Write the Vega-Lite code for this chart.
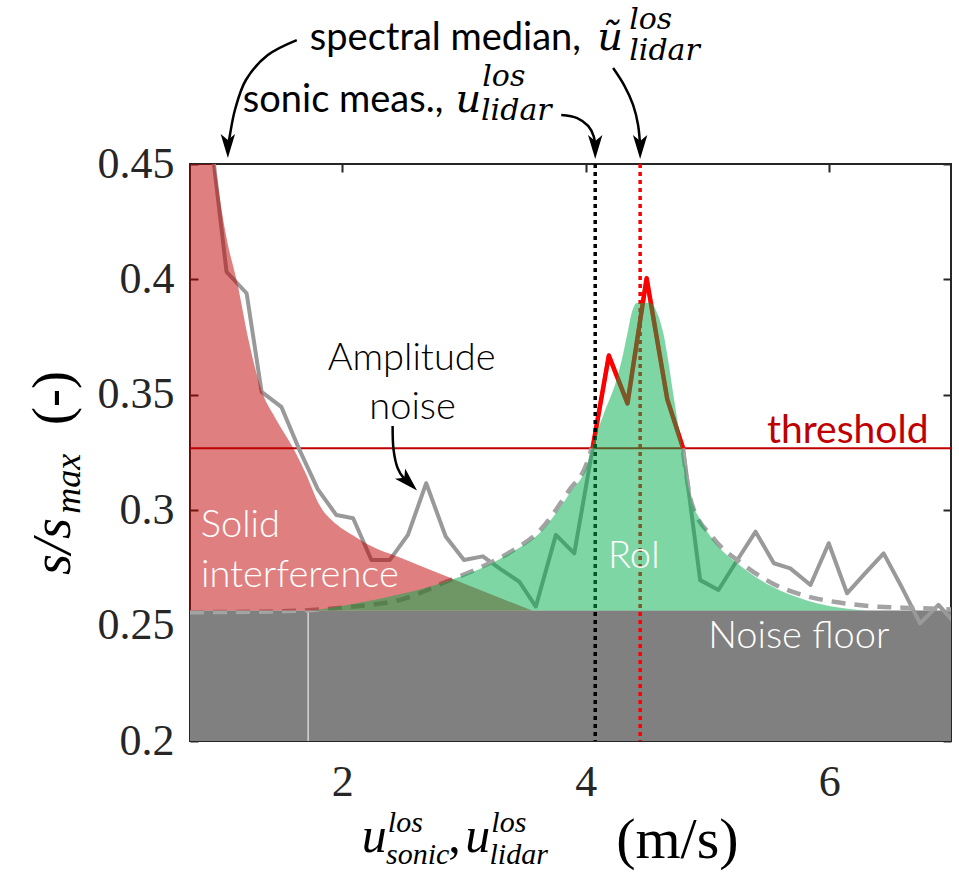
{
  "$schema": "https://vega.github.io/schema/vega-lite/v6.json",
  "width": 761,
  "height": 577,
  "autosize": {"type": "none"},
  "padding": {"left": 190, "top": 164, "right": 8, "bottom": 134},
  "background": "white",
  "config": {
    "view": {"stroke": "#262626", "strokeWidth": 2},
    "axis": {"grid": false, "domain": false, "title": null, "tickColor": "#262626", "tickWidth": 2, "tickSize": -8, "labelFlush": false, "labelOverlap": false, "labelBound": false}
  },
  "resolve": {"axis": {"x": "independent", "y": "independent"}},
  "datasets": {
    "floor": [{"x": 0.75, "x2": 7, "y": 0.2, "y2": 0.2565}],
    "whiteline": [{"x": 1.72, "y": 0.2, "y2": 0.2565}],
    "threshold": [{"y": 0.3268}],
    "spectrum": [
      {"x": 0.9, "y": 0.471}, {"x": 1.05, "y": 0.4033}, {"x": 1.215, "y": 0.394}, {"x": 1.338, "y": 0.3513},
      {"x": 1.5, "y": 0.3448}, {"x": 1.65, "y": 0.326}, {"x": 1.8, "y": 0.309}, {"x": 1.952, "y": 0.2979},
      {"x": 2.09, "y": 0.2965}, {"x": 2.24, "y": 0.2784}, {"x": 2.39, "y": 0.2784}, {"x": 2.54, "y": 0.2893},
      {"x": 2.69, "y": 0.3117}, {"x": 2.85, "y": 0.2886}, {"x": 3.0, "y": 0.2784}, {"x": 3.155, "y": 0.28},
      {"x": 3.3, "y": 0.2745}, {"x": 3.455, "y": 0.269}, {"x": 3.59, "y": 0.2582}, {"x": 3.755, "y": 0.2893},
      {"x": 3.906, "y": 0.2813}, {"x": 4.19, "y": 0.367}, {"x": 4.343, "y": 0.3463}, {"x": 4.5, "y": 0.4005},
      {"x": 4.67, "y": 0.348}, {"x": 4.8, "y": 0.3268}, {"x": 4.94, "y": 0.2697}, {"x": 5.09, "y": 0.2654},
      {"x": 5.24, "y": 0.278}, {"x": 5.395, "y": 0.2907}, {"x": 5.545, "y": 0.277}, {"x": 5.68, "y": 0.2748},
      {"x": 5.846, "y": 0.2676}, {"x": 5.996, "y": 0.2857}, {"x": 6.146, "y": 0.264}, {"x": 6.296, "y": 0.2727},
      {"x": 6.447, "y": 0.2813}, {"x": 6.597, "y": 0.2665}, {"x": 6.746, "y": 0.251}, {"x": 6.897, "y": 0.259},
      {"x": 7.05, "y": 0.25}
    ],
    "spectrumAbove": [
      {"x": 4.056, "y": 0.3268}, {"x": 4.19, "y": 0.367}, {"x": 4.343, "y": 0.3463}, {"x": 4.5, "y": 0.4005},
      {"x": 4.67, "y": 0.348}, {"x": 4.8, "y": 0.3268}
    ],
    "fit": [
      {"s": "a", "x": 0.75, "y": 0.2558}, {"s": "a", "x": 1.5, "y": 0.2562}, {"s": "a", "x": 2.0, "y": 0.2578},
      {"s": "a", "x": 2.5, "y": 0.2615}, {"s": "a", "x": 2.854, "y": 0.269}, {"s": "a", "x": 3.127, "y": 0.275},
      {"s": "a", "x": 3.4, "y": 0.2825}, {"s": "a", "x": 3.62, "y": 0.291}, {"s": "a", "x": 3.865, "y": 0.3087},
      {"s": "a", "x": 4.01, "y": 0.3204}, {"s": "a", "x": 4.05, "y": 0.327},
      {"s": "b", "x": 4.8, "y": 0.325}, {"s": "b", "x": 4.87, "y": 0.303}, {"s": "b", "x": 5.04, "y": 0.2884},
      {"s": "b", "x": 5.28, "y": 0.277}, {"s": "b", "x": 5.53, "y": 0.2684}, {"s": "b", "x": 5.81, "y": 0.2628},
      {"s": "b", "x": 6.08, "y": 0.26}, {"s": "b", "x": 6.4, "y": 0.2582}, {"s": "b", "x": 6.73, "y": 0.2576},
      {"s": "b", "x": 7.0, "y": 0.257}
    ],
    "verticals": [{"x": 4.078, "k": "sonic"}, {"x": 4.447, "k": "median"}],
    "solid": [
      {"x": 0.75, "y": 0.56}, {"x": 0.85, "y": 0.5}, {"x": 0.955, "y": 0.45}, {"x": 1.05, "y": 0.418},
      {"x": 1.14, "y": 0.398}, {"x": 1.23, "y": 0.374}, {"x": 1.337, "y": 0.352}, {"x": 1.45, "y": 0.34},
      {"x": 1.597, "y": 0.327}, {"x": 1.7, "y": 0.316}, {"x": 1.816, "y": 0.302}, {"x": 1.95, "y": 0.294},
      {"x": 2.09, "y": 0.289}, {"x": 2.2, "y": 0.2855}, {"x": 2.5, "y": 0.279}, {"x": 2.85, "y": 0.2715},
      {"x": 3.2, "y": 0.264}, {"x": 3.56, "y": 0.2565}
    ],
    "roi": [
      {"x": 1.76, "y": 0.2565}, {"x": 2.3, "y": 0.2615}, {"x": 2.85, "y": 0.269}, {"x": 3.13, "y": 0.2745},
      {"x": 3.4, "y": 0.282}, {"x": 3.62, "y": 0.29}, {"x": 3.87, "y": 0.3075}, {"x": 4.01, "y": 0.3195},
      {"x": 4.05, "y": 0.327}, {"x": 4.15, "y": 0.342}, {"x": 4.25, "y": 0.356}, {"x": 4.3, "y": 0.366},
      {"x": 4.34, "y": 0.376}, {"x": 4.38, "y": 0.386}, {"x": 4.42, "y": 0.3898}, {"x": 4.53, "y": 0.3898},
      {"x": 4.59, "y": 0.385}, {"x": 4.64, "y": 0.376}, {"x": 4.68, "y": 0.364}, {"x": 4.72, "y": 0.35},
      {"x": 4.79, "y": 0.327}, {"x": 4.86, "y": 0.306}, {"x": 4.95, "y": 0.295}, {"x": 5.04, "y": 0.2875},
      {"x": 5.28, "y": 0.2755}, {"x": 5.53, "y": 0.2669}, {"x": 5.81, "y": 0.261}, {"x": 6.0, "y": 0.2585},
      {"x": 6.3, "y": 0.2565}
    ],
    "whiteLabels": [
      {"x": 1.164, "y": 0.2884, "t": "Solid"}, {"x": 1.652, "y": 0.2667, "t": "interference"},
      {"x": 4.398, "y": 0.275, "t": "RoI"}, {"x": 5.75, "y": 0.2403, "t": "Noise floor"}
    ],
    "blackLabels": [
      {"x": 2.57, "y": 0.3607, "t": "Amplitude"}, {"x": 2.578, "y": 0.3395, "t": "noise"}
    ],
    "thresholdLabel": [{"x": 6.815, "y": 0.3268, "t": "threshold"}],
    "topText": [
      {"x": 1.734, "y": 0.4994, "t": "spectral median,"}, {"x": 1.184, "y": 0.4725, "t": "sonic meas.,"}
    ],
    "topMathBig": [
      {"x": 4.094, "y": 0.4994, "t": "ũ"}, {"x": 2.93, "y": 0.4725, "t": "u"}
    ],
    "topMathSmall": [
      {"x": 4.357, "y": 0.5085, "t": "los"}, {"x": 4.357, "y": 0.4952, "t": "lidar"},
      {"x": 3.15, "y": 0.484, "t": "los"}, {"x": 3.14, "y": 0.4689, "t": "lidar"}
    ],
    "xTitleBig": [
      {"x": 2.16, "y": 0.1519, "t": "u"}, {"x": 3.01, "y": 0.1519, "t": "u"}
    ],
    "xTitleSmall": [
      {"x": 2.375, "y": 0.1605, "t": "los"}, {"x": 2.36, "y": 0.1467, "t": "sonic"},
      {"x": 3.225, "y": 0.1605, "t": "los"}, {"x": 3.21, "y": 0.1467, "t": "lidar"}
    ],
    "xTitleComma": [
      {"x": 2.87, "y": 0.1519, "t": ","}
    ],
    "xTitleUnit": [
      {"x": 4.25, "y": 0.1495, "t": "(m/s)"}
    ],
    "yTitleBig": [{"x": -0.234, "y": 0.2719, "t": "s/s"}],
    "yTitleSmall": [{"x": -0.152, "y": 0.2985, "t": "max"}],
    "yTitleNormal": [{"x": -0.234, "y": 0.3369, "t": "(-)"}],
    "arrows": [
      {"id": "a", "i": 0, "x": 1.627, "y": 0.5037}, {"id": "a", "i": 1, "x": 1.389, "y": 0.4972},
      {"id": "a", "i": 2, "x": 1.209, "y": 0.4864}, {"id": "a", "i": 3, "x": 1.119, "y": 0.4734},
      {"id": "a", "i": 4, "x": 1.078, "y": 0.4626}, {"id": "a", "i": 5, "x": 1.061, "y": 0.4575},
      {"id": "b", "i": 0, "x": 4.225, "y": 0.4916}, {"id": "b", "i": 1, "x": 4.315, "y": 0.4842},
      {"id": "b", "i": 2, "x": 4.389, "y": 0.4756}, {"id": "b", "i": 3, "x": 4.43, "y": 0.4669},
      {"id": "b", "i": 4, "x": 4.447, "y": 0.4575},
      {"id": "c", "i": 0, "x": 3.799, "y": 0.4712}, {"id": "c", "i": 1, "x": 3.93, "y": 0.4699},
      {"id": "c", "i": 2, "x": 4.02, "y": 0.4665}, {"id": "c", "i": 3, "x": 4.065, "y": 0.4621},
      {"id": "c", "i": 4, "x": 4.078, "y": 0.4575},
      {"id": "d", "i": 0, "x": 2.414, "y": 0.3365}, {"id": "d", "i": 1, "x": 2.422, "y": 0.3261},
      {"id": "d", "i": 2, "x": 2.455, "y": 0.3183}, {"id": "d", "i": 3, "x": 2.504, "y": 0.314},
      {"id": "d", "i": 4, "x": 2.545, "y": 0.3122}
    ],
    "headsDown": [
      {"x": 1.061, "y": 0.4578}, {"x": 4.447, "y": 0.4574}, {"x": 4.078, "y": 0.4574}
    ],
    "headsDiag": [{"x": 2.545, "y": 0.3122}]
  },
  "layer": [
    {
      "data": {"name": "floor"},
      "mark": {"type": "rect", "color": "#808080"},
      "encoding": {
        "x": {"field": "x", "type": "quantitative", "scale": {"domain": [0.75, 7], "nice": false, "zero": false},
              "axis": {"orient": "bottom", "values": [2, 4, 6], "labelFont": "Liberation Serif", "labelFontSize": 44, "labelColor": "#262626", "labelPadding": 27}},
        "x2": {"field": "x2"},
        "y": {"field": "y", "type": "quantitative", "scale": {"domain": [0.2, 0.45], "nice": false, "zero": false},
              "axis": {"orient": "left", "values": [0.2, 0.25, 0.3, 0.35, 0.4, 0.45], "format": ".2~f", "labelFont": "Liberation Serif", "labelFontSize": 44, "labelColor": "#262626", "labelPadding": 24}},
        "y2": {"field": "y2"}
      }
    },
    {
      "data": {"name": "whiteline"},
      "mark": {"type": "rule", "color": "#ffffff", "strokeWidth": 1},
      "encoding": {
        "x": {"field": "x", "type": "quantitative", "scale": {"domain": [0.75, 7], "nice": false, "zero": false},
              "axis": {"orient": "top", "values": [2, 4, 6], "labels": false}},
        "y": {"field": "y", "type": "quantitative", "scale": {"domain": [0.2, 0.45], "nice": false, "zero": false},
              "axis": {"orient": "right", "values": [0.2, 0.25, 0.3, 0.35, 0.4, 0.45], "labels": false}},
        "y2": {"field": "y2"}
      }
    },
    {
      "data": {"name": "threshold"},
      "mark": {"type": "rule", "color": "#c00000", "strokeWidth": 2},
      "encoding": {
        "y": {"field": "y", "type": "quantitative", "scale": {"domain": [0.2, 0.45], "nice": false, "zero": false}, "axis": null}
      }
    },
    {
      "data": {"name": "spectrum"},
      "mark": {"type": "line", "color": "#999999", "strokeWidth": 4, "clip": true, "strokeJoin": "round"},
      "encoding": {
        "x": {"field": "x", "type": "quantitative", "scale": {"domain": [0.75, 7], "nice": false, "zero": false}, "axis": null},
        "y": {"field": "y", "type": "quantitative", "scale": {"domain": [0.2, 0.45], "nice": false, "zero": false}, "axis": null}
      }
    },
    {
      "data": {"name": "fit"},
      "mark": {"type": "line", "color": "#a3a3a3", "strokeWidth": 4.5, "strokeDash": [14, 9], "interpolate": "monotone", "clip": true},
      "encoding": {
        "x": {"field": "x", "type": "quantitative", "scale": {"domain": [0.75, 7], "nice": false, "zero": false}, "axis": null},
        "y": {"field": "y", "type": "quantitative", "scale": {"domain": [0.2, 0.45], "nice": false, "zero": false}, "axis": null},
        "detail": {"field": "s"}
      }
    },
    {
      "data": {"name": "spectrumAbove"},
      "mark": {"type": "line", "color": "#ff0000", "strokeWidth": 4.5, "clip": true, "strokeJoin": "round"},
      "encoding": {
        "x": {"field": "x", "type": "quantitative", "scale": {"domain": [0.75, 7], "nice": false, "zero": false}, "axis": null},
        "y": {"field": "y", "type": "quantitative", "scale": {"domain": [0.2, 0.45], "nice": false, "zero": false}, "axis": null}
      }
    },
    {
      "data": {"name": "verticals"},
      "mark": {"type": "rule", "strokeWidth": 3.5, "strokeDash": [4, 4]},
      "encoding": {
        "x": {"field": "x", "type": "quantitative", "scale": {"domain": [0.75, 7], "nice": false, "zero": false}, "axis": null},
        "color": {"field": "k", "type": "nominal", "scale": {"domain": ["sonic", "median"], "range": ["#000000", "#ff0000"]}, "legend": null}
      }
    },
    {
      "data": {"name": "solid"},
      "mark": {"type": "area", "color": "#c00000", "opacity": 0.5, "interpolate": "monotone", "clip": true},
      "encoding": {
        "x": {"field": "x", "type": "quantitative", "scale": {"domain": [0.75, 7], "nice": false, "zero": false}, "axis": null},
        "y": {"field": "y", "type": "quantitative", "scale": {"domain": [0.2, 0.45], "nice": false, "zero": false}, "axis": null},
        "y2": {"datum": 0.2565}
      }
    },
    {
      "data": {"name": "roi"},
      "mark": {"type": "area", "color": "#00ad4c", "opacity": 0.5, "interpolate": "monotone", "clip": true},
      "encoding": {
        "x": {"field": "x", "type": "quantitative", "scale": {"domain": [0.75, 7], "nice": false, "zero": false}, "axis": null},
        "y": {"field": "y", "type": "quantitative", "scale": {"domain": [0.2, 0.45], "nice": false, "zero": false}, "axis": null},
        "y2": {"datum": 0.2565}
      }
    },
    {
      "data": {"name": "whiteLabels"},
      "mark": {"type": "text", "color": "#ffffff", "font": "Lato", "fontWeight": 300, "fontSize": 38, "align": "center", "baseline": "alphabetic"},
      "encoding": {
        "x": {"field": "x", "type": "quantitative", "scale": {"domain": [0.75, 7], "nice": false, "zero": false}, "axis": null},
        "y": {"field": "y", "type": "quantitative", "scale": {"domain": [0.2, 0.45], "nice": false, "zero": false}, "axis": null},
        "text": {"field": "t"}
      }
    },
    {
      "data": {"name": "blackLabels"},
      "mark": {"type": "text", "color": "#000000", "font": "Lato", "fontWeight": 300, "fontSize": 38, "align": "center", "baseline": "alphabetic"},
      "encoding": {
        "x": {"field": "x", "type": "quantitative", "scale": {"domain": [0.75, 7], "nice": false, "zero": false}, "axis": null},
        "y": {"field": "y", "type": "quantitative", "scale": {"domain": [0.2, 0.45], "nice": false, "zero": false}, "axis": null},
        "text": {"field": "t"}
      }
    },
    {
      "data": {"name": "thresholdLabel"},
      "mark": {"type": "text", "color": "#c00000", "font": "Lato", "fontSize": 39, "align": "right", "baseline": "alphabetic", "dy": -5},
      "encoding": {
        "x": {"field": "x", "type": "quantitative", "scale": {"domain": [0.75, 7], "nice": false, "zero": false}, "axis": null},
        "y": {"field": "y", "type": "quantitative", "scale": {"domain": [0.2, 0.45], "nice": false, "zero": false}, "axis": null},
        "text": {"field": "t"}
      }
    },
    {
      "data": {"name": "topText"},
      "mark": {"type": "text", "color": "#000000", "font": "Lato", "fontSize": 38, "align": "left", "baseline": "alphabetic"},
      "encoding": {
        "x": {"field": "x", "type": "quantitative", "scale": {"domain": [0.75, 7], "nice": false, "zero": false}, "axis": null},
        "y": {"field": "y", "type": "quantitative", "scale": {"domain": [0.2, 0.45], "nice": false, "zero": false}, "axis": null},
        "text": {"field": "t"}
      }
    },
    {
      "data": {"name": "topMathBig"},
      "mark": {"type": "text", "color": "#000000", "font": "DejaVu Serif", "fontStyle": "italic", "fontSize": 40, "align": "left", "baseline": "alphabetic"},
      "encoding": {
        "x": {"field": "x", "type": "quantitative", "scale": {"domain": [0.75, 7], "nice": false, "zero": false}, "axis": null},
        "y": {"field": "y", "type": "quantitative", "scale": {"domain": [0.2, 0.45], "nice": false, "zero": false}, "axis": null},
        "text": {"field": "t"}
      }
    },
    {
      "data": {"name": "topMathSmall"},
      "mark": {"type": "text", "color": "#000000", "font": "DejaVu Serif", "fontStyle": "italic", "fontSize": 30, "align": "left", "baseline": "alphabetic"},
      "encoding": {
        "x": {"field": "x", "type": "quantitative", "scale": {"domain": [0.75, 7], "nice": false, "zero": false}, "axis": null},
        "y": {"field": "y", "type": "quantitative", "scale": {"domain": [0.2, 0.45], "nice": false, "zero": false}, "axis": null},
        "text": {"field": "t"}
      }
    },
    {
      "data": {"name": "xTitleBig"},
      "mark": {"type": "text", "color": "#000000", "font": "Liberation Serif", "fontStyle": "italic", "fontSize": 50, "align": "left", "baseline": "alphabetic"},
      "encoding": {
        "x": {"field": "x", "type": "quantitative", "scale": {"domain": [0.75, 7], "nice": false, "zero": false}, "axis": null},
        "y": {"field": "y", "type": "quantitative", "scale": {"domain": [0.2, 0.45], "nice": false, "zero": false}, "axis": null},
        "text": {"field": "t"}
      }
    },
    {
      "data": {"name": "xTitleSmall"},
      "mark": {"type": "text", "color": "#000000", "font": "Liberation Serif", "fontStyle": "italic", "fontSize": 30, "align": "left", "baseline": "alphabetic"},
      "encoding": {
        "x": {"field": "x", "type": "quantitative", "scale": {"domain": [0.75, 7], "nice": false, "zero": false}, "axis": null},
        "y": {"field": "y", "type": "quantitative", "scale": {"domain": [0.2, 0.45], "nice": false, "zero": false}, "axis": null},
        "text": {"field": "t"}
      }
    },
    {
      "data": {"name": "xTitleComma"},
      "mark": {"type": "text", "color": "#000000", "font": "Liberation Serif", "fontSize": 50, "align": "left", "baseline": "alphabetic"},
      "encoding": {
        "x": {"field": "x", "type": "quantitative", "scale": {"domain": [0.75, 7], "nice": false, "zero": false}, "axis": null},
        "y": {"field": "y", "type": "quantitative", "scale": {"domain": [0.2, 0.45], "nice": false, "zero": false}, "axis": null},
        "text": {"field": "t"}
      }
    },
    {
      "data": {"name": "xTitleUnit"},
      "mark": {"type": "text", "color": "#000000", "font": "Liberation Serif", "fontSize": 58, "align": "left", "baseline": "alphabetic"},
      "encoding": {
        "x": {"field": "x", "type": "quantitative", "scale": {"domain": [0.75, 7], "nice": false, "zero": false}, "axis": null},
        "y": {"field": "y", "type": "quantitative", "scale": {"domain": [0.2, 0.45], "nice": false, "zero": false}, "axis": null},
        "text": {"field": "t"}
      }
    },
    {
      "data": {"name": "yTitleBig"},
      "mark": {"type": "text", "color": "#000000", "font": "Liberation Serif", "fontStyle": "italic", "fontSize": 54, "angle": 270, "align": "left", "baseline": "alphabetic"},
      "encoding": {
        "x": {"field": "x", "type": "quantitative", "scale": {"domain": [0.75, 7], "nice": false, "zero": false}, "axis": null},
        "y": {"field": "y", "type": "quantitative", "scale": {"domain": [0.2, 0.45], "nice": false, "zero": false}, "axis": null},
        "text": {"field": "t"}
      }
    },
    {
      "data": {"name": "yTitleSmall"},
      "mark": {"type": "text", "color": "#000000", "font": "Liberation Serif", "fontStyle": "italic", "fontSize": 36, "angle": 270, "align": "left", "baseline": "alphabetic"},
      "encoding": {
        "x": {"field": "x", "type": "quantitative", "scale": {"domain": [0.75, 7], "nice": false, "zero": false}, "axis": null},
        "y": {"field": "y", "type": "quantitative", "scale": {"domain": [0.2, 0.45], "nice": false, "zero": false}, "axis": null},
        "text": {"field": "t"}
      }
    },
    {
      "data": {"name": "yTitleNormal"},
      "mark": {"type": "text", "color": "#000000", "font": "Liberation Serif", "fontSize": 54, "angle": 270, "align": "left", "baseline": "alphabetic"},
      "encoding": {
        "x": {"field": "x", "type": "quantitative", "scale": {"domain": [0.75, 7], "nice": false, "zero": false}, "axis": null},
        "y": {"field": "y", "type": "quantitative", "scale": {"domain": [0.2, 0.45], "nice": false, "zero": false}, "axis": null},
        "text": {"field": "t"}
      }
    },
    {
      "data": {"name": "arrows"},
      "mark": {"type": "line", "color": "#000000", "strokeWidth": 2.5, "interpolate": "catmull-rom"},
      "encoding": {
        "x": {"field": "x", "type": "quantitative", "scale": {"domain": [0.75, 7], "nice": false, "zero": false}, "axis": null},
        "y": {"field": "y", "type": "quantitative", "scale": {"domain": [0.2, 0.45], "nice": false, "zero": false}, "axis": null},
        "detail": {"field": "id"},
        "order": {"field": "i"}
      }
    },
    {
      "data": {"name": "headsDown"},
      "mark": {"type": "point", "shape": "M0,1L-0.6,-1L0,-0.5L0.6,-1Z", "filled": true, "color": "#000000", "opacity": 1, "size": 576, "strokeWidth": 0},
      "encoding": {
        "x": {"field": "x", "type": "quantitative", "scale": {"domain": [0.75, 7], "nice": false, "zero": false}, "axis": null},
        "y": {"field": "y", "type": "quantitative", "scale": {"domain": [0.2, 0.45], "nice": false, "zero": false}, "axis": null}
      }
    },
    {
      "data": {"name": "headsDiag"},
      "mark": {"type": "point", "shape": "M0,1L-0.6,-1L0,-0.5L0.6,-1Z", "filled": true, "color": "#000000", "opacity": 1, "size": 576, "strokeWidth": 0, "angle": 315},
      "encoding": {
        "x": {"field": "x", "type": "quantitative", "scale": {"domain": [0.75, 7], "nice": false, "zero": false}, "axis": null},
        "y": {"field": "y", "type": "quantitative", "scale": {"domain": [0.2, 0.45], "nice": false, "zero": false}, "axis": null}
      }
    }
  ]
}
